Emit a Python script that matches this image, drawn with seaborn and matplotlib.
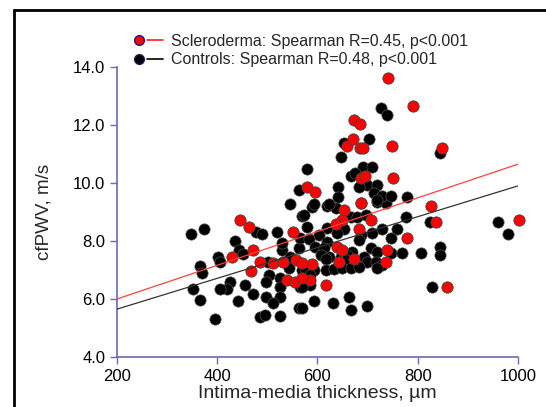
import numpy as np
import pandas as pd
import matplotlib
matplotlib.use("Agg")
import matplotlib.pyplot as plt
from matplotlib.lines import Line2D
from matplotlib.patches import Rectangle
from matplotlib.legend_handler import HandlerTuple
import seaborn as sns

# Scleroderma patients: intima-media thickness (um) vs cfPWV (m/s)
ssc_imt = [446, 463, 552, 471, 429, 486, 512, 531, 558, 467, 539, 556,
           653, 686, 706, 649, 636, 683, 778, 639, 649, 739, 643, 673, 736, 589, 569, 586, 569, 616,
           741, 791, 673, 685, 658, 671, 685, 691, 748, 686, 695, 751, 579, 596, 686,
           849, 826, 837, 858, 1003]
ssc_pwv = [8.72, 8.49, 8.32, 7.69, 7.46, 7.29, 7.23, 7.29, 7.34, 6.98, 6.66, 6.60,
           9.07, 9.30, 8.72, 8.72, 8.59, 8.40, 8.09, 7.80, 7.69, 7.69, 7.29, 7.37, 7.29, 7.21, 7.25, 6.66, 6.71, 6.48,
           13.61, 12.66, 12.17, 12.02, 11.28, 11.53, 11.21, 11.21, 11.29, 10.16, 10.24, 10.16, 9.85, 9.70, 9.32,
           11.22, 9.21, 8.64, 6.40, 8.72]

# Controls
ctl_imt = [545, 569, 347, 374, 478, 489, 519, 436, 443, 451, 402, 406, 366, 369, 502, 529, 529, 546, 563, 566,
           543, 569, 503, 498, 526, 526, 566, 425, 419, 406, 456, 471, 498, 526, 351, 366, 441, 512, 564, 396,
           486, 496, 526,
           573, 589, 619, 636, 666, 679, 696, 719, 736, 579, 619, 653, 776, 759, 729, 709, 686, 639, 603, 583,
           619, 683, 746, 596, 613, 669, 706, 719, 747, 769, 807, 606, 623, 646, 659, 656, 693, 699, 716, 729,
           719, 616, 576, 593, 616, 633, 649, 666, 683, 586, 586, 569, 663, 594, 631, 667, 698, 569,
           727, 738, 653, 703, 646, 579, 690, 708, 667, 674, 699, 719, 683, 641, 712, 641, 729, 747, 778, 719,
           593, 623, 563,
           844, 825, 844, 844, 828, 961, 981]
ctl_pwv = [9.28, 8.86, 8.24, 8.40, 8.32, 8.24, 8.32, 8.00, 7.69, 7.55, 7.46, 7.29, 7.14, 6.89, 7.29, 7.69, 7.92, 7.44, 7.75, 8.09,
           7.06, 7.00, 6.83, 6.60, 6.71, 6.42, 6.42, 6.60, 6.33, 6.33, 6.48, 6.16, 6.08, 6.08, 6.33, 5.97, 5.94, 5.85, 5.68, 5.30,
           5.37, 5.45, 5.41,
           8.90, 9.18, 9.21, 9.13, 8.84, 8.82, 8.90, 9.36, 9.30, 8.49, 8.44, 8.40, 8.82, 8.40, 8.40, 8.27, 8.21, 8.27, 8.21, 8.06,
           7.98, 8.03, 8.09, 7.80, 7.75, 7.63, 7.75, 7.63, 7.60, 7.60, 7.60, 7.52, 7.46, 7.46, 7.52, 7.34, 7.46, 7.29, 7.29, 7.17,
           7.06, 7.37, 7.06, 7.00, 7.00, 7.02, 7.06, 7.06, 7.11, 6.83, 6.48, 6.40, 6.08, 5.94, 5.85, 5.62, 5.76, 5.68,
           12.58, 12.34, 11.39, 11.53, 10.89, 10.48, 10.56, 10.56, 10.24, 10.33, 9.93, 9.93, 9.85, 9.85, 9.67, 9.53, 9.55, 9.55, 9.53, 9.41,
           9.28, 9.28, 9.76,
           11.05, 8.64, 7.78, 7.52, 6.40, 8.64, 8.24]

# regression lines
fit_imt = [200, 1000]
ssc_fit = [6.0, 10.65]
ctl_fit = [5.65, 9.9]

ssc_label = "Scleroderma: Spearman R=0.45, p<0.001"
ctl_label = "Controls: Spearman R=0.48, p<0.001"

sns.set_style("ticks")
plt.rcParams["font.family"] = ["Liberation Sans", "DejaVu Sans"]

axis_blue = "#6a6ab8"

fig = plt.figure(figsize=(5.46, 4.07), dpi=100)
ax = fig.add_axes([0.2143, 0.1229, 0.7344, 0.7125])

ctl = pd.DataFrame({"imt": ctl_imt, "pwv": ctl_pwv})
ssc = pd.DataFrame({"imt": ssc_imt, "pwv": ssc_pwv})

sns.scatterplot(data=ctl, x="imt", y="pwv", ax=ax, color="black", s=66,
                edgecolor="#555555", linewidth=0.5, zorder=3, clip_on=False)
sns.scatterplot(data=ssc, x="imt", y="pwv", ax=ax, color="#ff0000", s=66,
                edgecolor="#444444", linewidth=0.6, zorder=3, clip_on=False)

ax.plot(fit_imt, ssc_fit, color="#ff4040", lw=0.9, zorder=4)
ax.plot(fit_imt, ctl_fit, color="#333333", lw=0.9, zorder=4)

ax.set_xlim(200, 1000)
ax.set_ylim(4, 14)
ax.set_xticks([200, 400, 600, 800, 1000])
ax.set_yticks([4, 6, 8, 10, 12, 14])
ax.set_yticklabels(["4.0", "6.0", "8.0", "10.0", "12.0", "14.0"])
ax.tick_params(axis="both", colors=axis_blue, labelcolor="black", labelsize=12,
               length=5, width=1, direction="out")
for side in ["top", "right"]:
    ax.spines[side].set_visible(False)
for side in ["left", "bottom"]:
    ax.spines[side].set_color(axis_blue)
    ax.spines[side].set_linewidth(1.2)

ax.set_xlabel("Intima-media thickness, µm", fontsize=14, labelpad=1)
ax.set_ylabel("cfPWV, m/s", fontsize=13.5)
ax.yaxis.set_label_coords(-0.16, 0.5)

h_ssc = (Line2D([], [], marker="o", ls="", color="#ff0000", markeredgecolor="#1a1a80", markersize=7),
         Line2D([], [], color="#ff2020", lw=1.2))
h_ctl = (Line2D([], [], marker="o", ls="", color="black", markeredgecolor="#1a1a60", markersize=7),
         Line2D([], [], color="black", lw=1.2))
fig.legend([h_ssc, h_ctl], [ssc_label, ctl_label],
           handler_map={tuple: HandlerTuple(ndivide=None, pad=0)},
           loc="upper left", bbox_to_anchor=(0.228, 0.932), frameon=False,
           fontsize=11.5, handlelength=2.0, handletextpad=0.5, labelspacing=0.2,
           borderaxespad=0)

fig.patches.append(Rectangle((14 / 546, -0.05), 1.1, 1 - 10 / 407 + 0.05,
                             transform=fig.transFigure, fill=False,
                             edgecolor="black", linewidth=2))

fig.savefig("out.png", dpi=100)
